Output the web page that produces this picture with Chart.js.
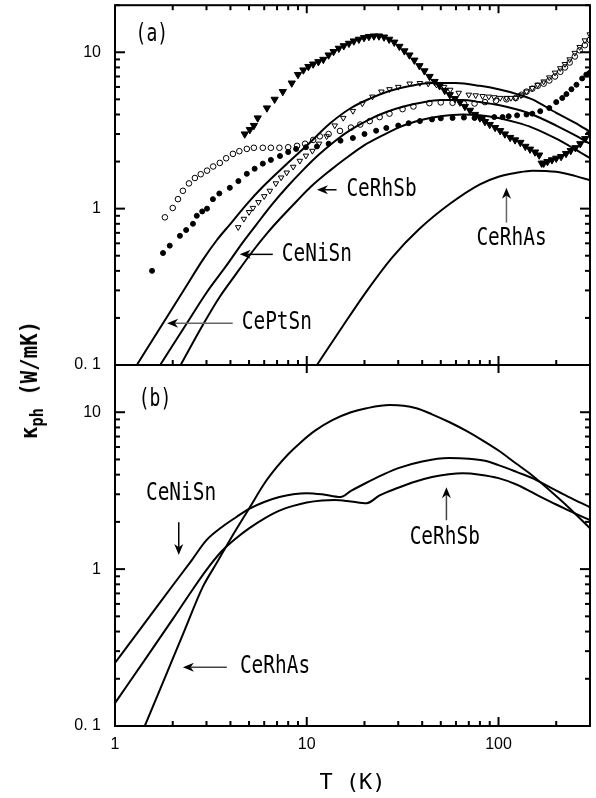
<!DOCTYPE html>
<html><head><meta charset="utf-8">
<script src="https://cdn.jsdelivr.net/npm/chart.js@4.4.1/dist/chart.umd.min.js"></script>
<style>
html,body{margin:0;padding:0;background:#fff;width:596px;height:798px;overflow:hidden;}
#wrapA{position:absolute;left:0;top:0;width:596px;height:380px;}
#wrapB{position:absolute;left:0;top:355px;width:596px;height:443px;}
#ytitle{position:absolute;left:32px;top:380px;transform:translate(-50%,-50%) rotate(-90deg) scale(0.9,1);white-space:nowrap;font:bold 23px "DejaVu Sans Mono";color:#000;line-height:1;}
#ytitle sub{font-size:17px;vertical-align:-6px;}
</style></head>
<body>
<div id="wrapA"><canvas id="cA"></canvas></div>
<div id="wrapB"><canvas id="cB"></canvas></div>
<div id="ytitle">κ<sub>ph</sub> (W/mK)</div>
<script>
// ---- axis ticks ----
const xTickValues = [1, 10, 100];
const xTickLabels = ['1', '10', '100'];
const yTickValues = [0.1, 1, 10];
const yTickLabels = ['0. 1', '1', '10'];
// decades used for the inward major/minor tick marks
const xDecades = [1, 10, 100];
const yDecades = [0.1, 1, 10];

// ---- panel (a): measured data (T in K, kappa in W/mK) ----
const aFilledDownTriT = [4.75,5.05,5.3,5.55,6.2,6.8,7.5,8.35,9.0,9.6,10.2,10.8,11.5,12.2,13.0,13.8,14.7,15.6,16.6,17.6,18.7,19.9,21.1,22.4,23.8,25.3,26.9,28.6,30.4,32.3,34.3,36.4,38.7,41.1,43.7,46.4,49.3,52.4,55.7,59.2,62.9,66.8,71,75.4,80,85,90,96,102,108,115,122,130,138,146,155,163,168,172,180,190,200,212,225,238,252,267,283,300];
const aFilledDownTriK = [3.0,3.2,3.4,3.8,4.4,5.0,5.6,6.35,7.2,7.7,8.1,8.4,8.7,9.0,9.6,10.1,10.6,11.0,11.4,11.8,12.1,12.4,12.6,12.7,12.7,12.5,12.1,11.6,10.9,10.2,9.6,8.9,8.2,7.6,7.0,6.5,6.1,5.7,5.35,5.05,4.8,4.5,4.25,4.0,3.8,3.6,3.45,3.3,3.15,3.0,2.85,2.75,2.65,2.5,2.4,2.3,2.2,1.95,1.95,2.0,2.05,2.1,2.15,2.25,2.35,2.45,2.6,2.8,3.0];

const aOpenCircleT = [1.82,2.0,2.13,2.26,2.43,2.61,2.8,3.02,3.25,3.52,3.8,4.12,4.45,4.87,5.3,5.9,6.5,7.2,8.0,8.9,9.8,10.8,11.7,13,14.9,17,19,21.3,24,27,31.6,36,43.6,50,57.6,66,75,85,97,110,123,132,140,150,160,172,184,197,210,222,235,250,265,282,299];
const aOpenCircleK = [0.88,1.01,1.15,1.3,1.45,1.57,1.66,1.75,1.86,1.96,2.1,2.24,2.33,2.41,2.45,2.45,2.45,2.45,2.47,2.52,2.6,2.75,2.9,3.0,3.14,3.3,3.45,3.63,3.85,4.05,4.33,4.5,4.73,4.78,4.75,4.7,4.7,4.8,4.9,5.0,5.1,5.35,5.6,5.85,6.1,6.3,6.6,7.0,7.5,8.0,8.6,9.4,10.3,11.1,12.0];

const aOpenDownTriT = [4.39,4.7,5.0,5.24,5.6,6.0,6.42,6.9,7.35,7.86,8.5,9.2,9.9,10.7,11.6,12.7,14,15.5,17.4,19.5,22,24.5,27,30,34.4,38.9,43,47.5,52,56,62,70,76,82.6,89,95,102,110,116,123,131,140,150,160,172,184,197,210,222,235,250,265,282,299];
const aOpenDownTriK = [0.76,0.86,0.95,1.01,1.1,1.2,1.3,1.45,1.58,1.7,1.85,2.02,2.18,2.34,2.6,2.9,3.4,3.8,4.21,4.7,5.2,5.6,5.8,6.0,6.3,6.35,6.3,6.2,6.0,5.75,5.5,5.35,5.3,5.24,5.2,5.15,5.1,5.1,5.1,5.1,5.3,5.6,5.9,6.2,6.5,6.9,7.4,7.9,8.4,9.0,9.9,10.8,11.9,13.0];

const aFilledCircleT = [1.56,1.78,1.93,2.18,2.35,2.55,2.67,2.85,3.02,3.24,3.5,3.97,4.4,4.87,5.35,5.9,6.5,7.25,8.0,8.8,9.9,11.3,13,15,17.4,20,23,26,30,34,38.9,45,50,57.6,66,75,82.6,95,105,113,125,140,150,165,184,200,215,226,240,255,273,287,299];
const aFilledCircleK = [0.40,0.52,0.58,0.67,0.73,0.80,0.9,0.96,1.0,1.15,1.25,1.36,1.5,1.67,1.8,1.94,2.05,2.17,2.3,2.41,2.47,2.5,2.6,2.72,2.83,3.0,3.15,3.28,3.4,3.52,3.63,3.72,3.78,3.8,3.82,3.8,3.8,3.85,3.85,3.9,3.95,4.0,4.05,4.2,4.4,4.8,5.1,5.4,5.8,6.2,6.8,7.2,7.4];

// ---- panel (a): fitted curves ----
const fitCePtSnT = [1.3,1.78,2.3,2.87,3.4,4.0,4.87,5.9,7.86,10.3,13.2,17,21.3,27,35,45,60,80,100,125,150,200,250,300];
const fitCePtSnK = [0.1,0.185,0.305,0.47,0.63,0.8,1.07,1.38,1.93,2.62,3.5,4.4,5.05,5.65,6.1,6.35,6.35,6.1,5.8,5.4,5.0,4.1,3.55,3.1];
const fitCeNiSnT = [1.72,2.37,3.0,3.8,4.6,5.5,6.66,8,9.5,11.5,14,17,21,26,32,40,50,65,80,100,125,150,200,250,300];
const fitCeNiSnK = [0.1,0.185,0.29,0.43,0.6,0.8,1.08,1.4,1.75,2.2,2.7,3.2,3.7,4.15,4.5,4.78,4.95,4.95,4.8,4.6,4.3,4.0,3.4,2.95,2.6];
const fitCeRhSbT = [2.2,2.87,3.5,4.2,5.2,6.3,7.5,8.88,10.5,13.2,16,20,25,30,40,50,65,80,100,125,150,200,250,300];
const fitCeRhSbK = [0.1,0.18,0.27,0.37,0.53,0.71,0.9,1.12,1.38,1.75,2.1,2.55,2.95,3.3,3.7,3.9,4.0,3.95,3.8,3.55,3.3,2.8,2.4,2.1];
const fitCeRhAsT = [11.3,15.4,20.5,28,38.6,55.6,80,100,125,150,200,250,300];
const fitCeRhAsK = [0.1,0.177,0.296,0.49,0.74,1.07,1.43,1.6,1.7,1.75,1.72,1.62,1.52];

// ---- panel (b): curves ----
const bCeNiSnT = [1,1.5,2,2.5,3.0,3.6,4.3,5.0,6.0,7.2,8.5,10,12,15,17,20,25,30,40,55,70,85,100,125,150,185,230,300];
const bCeNiSnK = [0.252,0.49,0.786,1.13,1.53,1.85,2.15,2.42,2.68,2.88,3.0,3.05,3.0,2.88,3.15,3.5,4.0,4.4,4.85,5.1,5.05,4.9,4.6,4.15,3.8,3.33,2.9,2.48];
const bCeRhSbT = [1,1.5,2,2.5,3.0,3.6,4.3,5.0,6.0,7.2,8.5,10,12,14,17,20.5,24,30,37,45,55,65,80,100,125,150,185,230,300];
const bCeRhSbK = [0.14,0.287,0.48,0.72,0.99,1.3,1.58,1.82,2.1,2.36,2.53,2.66,2.74,2.76,2.7,2.63,2.95,3.3,3.62,3.86,4.02,4.08,4.0,3.8,3.45,3.08,2.7,2.38,2.05];
const bCeRhAsT = [1.43,1.87,2.3,2.87,3.4,3.97,5.05,6.0,6.97,8.0,9.2,11,13.6,17,20.5,27,32,37.3,45,55.6,68,82.5,100,123,150,184,230,300];
const bCeRhAsK = [0.1,0.22,0.404,0.77,1.1,1.53,2.48,3.5,4.46,5.4,6.35,7.6,8.9,10.0,10.6,11.1,11.0,10.6,9.7,8.63,7.6,6.62,5.7,4.73,3.95,3.19,2.5,1.82];

const zip = (t, k) => t.map((v, i) => ({x: v, y: k[i]}));

function fitLine(t, k) {
  return {data: zip(t, k), showLine: true, borderColor: '#000', borderWidth: 2, pointRadius: 0,
          cubicInterpolationMode: 'monotone', fill: false, clip: 0};
}
function markers(t, k, style, rot, r, filled) {
  return {data: zip(t, k), showLine: false, pointStyle: style, rotation: rot, pointRadius: r,
          backgroundColor: filled ? '#000' : 'rgba(0,0,0,0)', borderColor: '#000', borderWidth: 1, clip: 0};
}

function drawLabel(ctx, text, px, py, size, sx) {
  ctx.save();
  ctx.translate(px, py);
  ctx.scale(sx, 1);
  ctx.font = size + 'px "DejaVu Sans Mono"';
  ctx.textAlign = 'left';
  ctx.textBaseline = 'middle';
  ctx.fillStyle = '#000';
  ctx.fillText(text, 0, 0);
  ctx.restore();
}
function drawArrow(ctx, x1, y1, x2, y2, color) {
  const ang = Math.atan2(y2 - y1, x2 - x1);
  const hl = 11, hw = 4.5;
  const c = Math.cos(ang), s = Math.sin(ang);
  const bx = x2 - hl * c, by = y2 - hl * s;
  const nx = x2 - hl * 0.7 * c, ny = y2 - hl * 0.7 * s;
  ctx.strokeStyle = color; ctx.lineWidth = 1.5;
  ctx.beginPath(); ctx.moveTo(x1, y1); ctx.lineTo(nx, ny); ctx.stroke();
  ctx.fillStyle = '#000';
  ctx.beginPath();
  ctx.moveTo(x2, y2);
  ctx.lineTo(bx - hw * s, by + hw * c);
  ctx.lineTo(nx, ny);
  ctx.lineTo(bx + hw * s, by - hw * c);
  ctx.closePath(); ctx.fill();
}

const framePlugin = {
  id: 'frameTicks',
  afterDraw(chart, args, opts) {
    const ctx = chart.ctx;
    const a = chart.chartArea;
    const xs = chart.scales.x, ys = chart.scales.y;
    ctx.save();
    ctx.fillStyle = '#000';
    for (const d of yDecades) {
      for (let m = 1; m <= 9; m++) {
        const v = d * m;
        if (v < 0.0999 || v > 20) continue;
        const p = ys.getPixelForValue(v);
        const len = (m === 1) ? 10 : 5;
        ctx.fillRect(a.left, p - 1, len, 2);
        ctx.fillRect(a.right - len, p - 1, len, 2);
      }
    }
    for (const d of xDecades) {
      for (let m = 1; m <= 9; m++) {
        const v = d * m;
        if (v > 300) continue;
        const p = xs.getPixelForValue(v);
        const len = (m === 1) ? 9 : 5;
        ctx.fillRect(p - 1, a.bottom - len, 2, len);
        if (m === 1 || opts.topMinor) {
          const tl = (m === 1) ? 8 : 5;
          ctx.fillRect(p - 1, a.top, 2, tl);
        }
      }
    }
    ctx.strokeStyle = '#000';
    ctx.lineWidth = 2;
    ctx.strokeRect(a.left, a.top, a.right - a.left, a.bottom - a.top);
    (opts.notes || []).forEach(n => {
      drawLabel(ctx, n.text, xs.getPixelForValue(n.t), ys.getPixelForValue(n.k), n.size, n.sx);
      if (n.arrow) {
        const ar = n.arrow;
        drawArrow(ctx, xs.getPixelForValue(ar.t1), ys.getPixelForValue(ar.k1),
                  xs.getPixelForValue(ar.t2), ys.getPixelForValue(ar.k2), ar.color || '#000');
      }
    });
    ctx.restore();
  }
};

function yAxis() {
  return {
    type: 'logarithmic', min: 0.1, max: 20, position: 'left',
    grid: {display: false, drawTicks: false}, border: {display: false},
    afterBuildTicks: s => { s.ticks = yTickValues.map(v => ({value: v})); },
    ticks: {padding: 14, color: '#000', autoSkip: false, font: {family: 'Liberation Sans', size: 16},
            callback: (v, i) => yTickLabels[i]},
    afterFit: s => { s.width = 115; s.paddingTop = 0; s.paddingBottom = 0; }
  };
}

const baseOpts = {
  responsive: true, maintainAspectRatio: false, animation: false, devicePixelRatio: 1,
  events: [],
};

// ---- chart (a) ----
new Chart(document.getElementById('cA'), {
  type: 'scatter',
  data: {datasets: [
    fitLine(fitCePtSnT, fitCePtSnK),
    fitLine(fitCeNiSnT, fitCeNiSnK),
    fitLine(fitCeRhSbT, fitCeRhSbK),
    fitLine(fitCeRhAsT, fitCeRhAsK),
    markers(aFilledCircleT, aFilledCircleK, 'circle', 0, 2.5, true),
    markers(aOpenCircleT, aOpenCircleK, 'circle', 0, 2.8, false),
    markers(aOpenDownTriT, aOpenDownTriK, 'triangle', 180, 3.2, false),
    markers(aFilledDownTriT, aFilledDownTriK, 'triangle', 180, 4.2, true),
  ]},
  options: Object.assign({}, baseOpts, {
    layout: {padding: {left: 0, right: 6, top: 4, bottom: 15}},
    plugins: {legend: {display: false}, tooltip: {enabled: false},
      frameTicks: {topMinor: true, notes: [
        {text: '(a)', t: 1.28, k: 13.0, size: 25, sx: 0.72},
        {text: 'CeRhSb', t: 16.1, k: 1.32, size: 24, sx: 0.81, arrow: {t1: 14.3, k1: 1.32, t2: 11.3, k2: 1.32}},
        {text: 'CeNiSn', t: 7.41, k: 0.51, size: 24, sx: 0.81, arrow: {t1: 6.65, k1: 0.51, t2: 4.47, k2: 0.51}},
        {text: 'CePtSn', t: 4.58, k: 0.185, size: 24, sx: 0.81, arrow: {t1: 4.11, k1: 0.185, t2: 1.87, k2: 0.185, color: '#666'}},
        {text: 'CeRhAs', t: 76.7, k: 0.644, size: 24, sx: 0.81, arrow: {t1: 110, k1: 0.814, t2: 110, k2: 1.36, color: '#666'}},
      ]}},
    scales: {
      x: {type: 'logarithmic', min: 1, max: 300, display: false},
      y: yAxis()
    }
  }),
  plugins: [framePlugin]
});

// ---- chart (b) ----
new Chart(document.getElementById('cB'), {
  type: 'scatter',
  data: {datasets: [
    fitLine(bCeNiSnT, bCeNiSnK),
    fitLine(bCeRhSbT, bCeRhSbK),
    fitLine(bCeRhAsT, bCeRhAsK),
  ]},
  options: Object.assign({}, baseOpts, {
    layout: {padding: {left: 0, right: 6, top: 10, bottom: 0}},
    plugins: {legend: {display: false}, tooltip: {enabled: false},
      frameTicks: {topMinor: false, notes: [
        {text: '(b)', t: 1.33, k: 12.1, size: 25, sx: 0.72},
        {text: 'CeNiSn', t: 1.45, k: 3.0, size: 24, sx: 0.81, arrow: {t1: 2.15, k1: 1.99, t2: 2.15, k2: 1.23}},
        {text: 'CeRhSb', t: 34.4, k: 1.58, size: 24, sx: 0.81, arrow: {t1: 53.5, k1: 2.05, t2: 53.5, k2: 3.33, color: '#444'}},
        {text: 'CeRhAs', t: 4.48, k: 0.237, size: 24, sx: 0.81, arrow: {t1: 3.83, k1: 0.237, t2: 2.26, k2: 0.237, color: '#444'}},
      ]}},
    scales: {
      x: {type: 'logarithmic', min: 1, max: 300, position: 'bottom',
          grid: {display: false, drawTicks: false}, border: {display: false},
          afterBuildTicks: s => { s.ticks = xTickValues.map(v => ({value: v})); },
          ticks: {padding: 9, color: '#000', autoSkip: false, maxRotation: 0, font: {family: 'Liberation Sans', size: 16},
                  callback: (v, i) => xTickLabels[i]},
          title: {display: true, text: 'T (K)', color: '#000', font: {family: 'DejaVu Sans Mono', size: 22},
                  padding: {top: 0, bottom: 2}},
          afterFit: s => { s.height = 72; s.paddingLeft = 0; s.paddingRight = 0; }
      },
      y: yAxis()
    }
  }),
  plugins: [framePlugin]
});
</script>
</body></html>
